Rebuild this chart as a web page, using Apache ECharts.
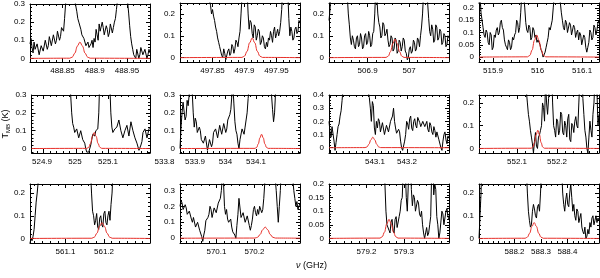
<!DOCTYPE html>
<html><head><meta charset="utf-8">
<script src="https://cdn.jsdelivr.net/npm/echarts@6.0.0/dist/echarts.min.js"></script>
<style>html,body{margin:0;padding:0;background:#fff}#c{width:600px;height:278px}</style>
</head><body><div id="c"></div>
<script>
// ---- axis ranges (GHz / K) ----
const xMin = [488.7996, 497.7992, 506.807, 515.8685, 524.8636, 533.8508, 542.9563, 552.005, 561.0078, 570.004, 579.10, 588.066];
const xMax = [488.9856, 497.9867, 507.096, 516.138, 525.2273, 534.2443, 543.3313, 552.305, 561.3195, 570.3198, 579.42, 588.519];
const yMin = [-0.02, -0.02, -0.02, -0.02, -0.025, -0.025, -0.04, -0.02, -0.02, -0.03, -0.017, -0.02];
const yMax = [0.3, 0.25, 0.25, 0.22, 0.3, 0.3, 0.4, 0.235, 0.24, 0.34, 0.2, 0.24];
// ---- tick labels ----
const xTicks = [
  [488.85, 488.9, 488.95], [497.85, 497.9, 497.95], [506.9, 507], [515.9, 516, 516.1],
  [524.9, 525, 525.1], [533.8, 533.9, 534, 534.1], [543.1, 543.2], [552.1, 552.2],
  [561.1, 561.2], [570.1, 570.2], [579.2, 579.3], [588.2, 588.3, 588.4]
];
const yTicks = [
  [0, 0.1, 0.2, 0.3], [0, 0.1, 0.2], [0, 0.1, 0.2], [0, 0.05, 0.1, 0.15, 0.2],
  [0, 0.1, 0.2, 0.3], [0, 0.1, 0.2, 0.3], [0, 0.1, 0.2, 0.3, 0.4], [0, 0.1, 0.2],
  [0, 0.1, 0.2], [0, 0.1, 0.2, 0.3], [0, 0.05, 0.1, 0.15, 0.2], [0, 0.1, 0.2]
];
const xMinorStep = [0.01, 0.01, 0.02, 0.02, 0.02, 0.02, 0.02, 0.02, 0.02, 0.02, 0.02, 0.02];
const yMinorStep = [0.02, 0.02, 0.02, 0.01, 0.02, 0.02, 0.02, 0.02, 0.02, 0.02, 0.01, 0.02];

// ---- observed spectra (T_MB, K), equally spaced channels across each panel ----
const tb1 = [0.08,0.11,0.06,0.03,0.09,0.05,0.04,0.08,0.07,0.02,0.03,0.07,0.06,0.04,0.05,0.10,0.09,0.05,0.07,0.12,0.11,0.07,0.08,0.13,0.12,0.08,0.10,0.15,0.14,0.10,0.12,0.17,0.16,0.15,0.22,0.30,0.35,0.40,0.42,0.45,0.45,0.42,0.38,0.34,0.32,0.29,0.26,0.22,0.20,0.19,0.16,0.13,0.12,0.11,0.10,0.07,0.07,0.09,0.06,0.05,0.08,0.10,0.06,0.11,0.09,0.16,0.13,0.10,0.19,0.15,0.14,0.20,0.17,0.13,0.12,0.18,0.16,0.12,0.14,0.19,0.18,0.14,0.17,0.20,0.22,0.27,0.32,0.37,0.40,0.44,0.45,0.44,0.42,0.40,0.36,0.33,0.31,0.25,0.18,0.12,0.08,0.05,0.02,0.03,0.0,0.05,0.04,0.0,0.02,0.06,0.05,0.02,0.01,0.05,0.04,0.0,0.02,0.05,0.03];
const tb2 = [0.4,0.41,0.42,0.44,0.45,0.45,0.44,0.45,0.46,0.44,0.43,0.44,0.45,0.43,0.42,0.43,0.44,0.42,0.41,0.40,0.40,0.39,0.38,0.36,0.35,0.33,0.32,0.30,0.28,0.26,0.24,0.20,0.22,0.19,0.17,0.14,0.12,0.09,0.07,0.05,0.03,0.01,0.0,0.04,0.02,-0.01,-0.01,0.03,0.04,0.01,0.02,0.06,0.05,0.02,0.04,0.08,0.07,0.05,0.09,0.12,0.2,0.28,0.35,0.38,0.4,0.36,0.3,0.2,0.13,0.17,0.16,0.11,0.09,0.15,0.14,0.08,0.1,0.13,0.12,0.06,0.07,0.10,0.09,0.05,0.04,0.07,0.05,0.09,0.08,0.12,0.1,0.07,0.12,0.14,0.09,0.11,0.13,0.10,0.12,0.16,0.22,0.32,0.4,0.44,0.42,0.36,0.3,0.18,0.1,0.14,0.12,0.08,0.09,0.13,0.14,0.11,0.12,0.17,0.16];
const tb3 = [0.17,0.22,0.3,0.36,0.4,0.43,0.45,0.44,0.42,0.45,0.46,0.45,0.44,0.42,0.4,0.38,0.35,0.31,0.28,0.2,0.15,0.09,0.06,0.1,0.08,0.05,0.04,0.09,0.1,0.05,0.06,0.11,0.09,0.04,0.05,0.1,0.11,0.06,0.07,0.12,0.1,0.05,0.06,0.11,0.12,0.2,0.32,0.28,0.2,0.16,0.14,0.09,0.1,0.16,0.15,0.1,0.11,0.13,0.08,0.05,0.06,0.1,0.09,0.03,0.04,0.09,0.08,0.02,0.03,0.08,0.07,0.03,0.05,0.09,0.08,0.03,0.02,-0.01,0.0,0.04,0.05,0.02,0.03,0.08,0.07,0.03,0.04,0.09,0.08,0.05,0.1,0.14,0.2,0.3,0.35,0.3,0.32,0.25,0.18,0.12,0.1,0.15,0.13,0.07,0.08,0.15,0.14,0.08,0.09,0.13,0.12,0.06,0.07,0.11,0.1,0.05,0.06,0.1,0.09];
const tb4 = [0.22,0.25,0.18,0.15,0.12,0.09,0.08,0.11,0.1,0.06,0.05,0.1,0.09,0.03,0.04,0.09,0.08,0.11,0.12,0.09,0.1,0.14,0.15,0.12,0.11,0.07,0.05,0.04,0.03,0.07,0.06,0.03,0.04,0.08,0.07,0.09,0.1,0.15,0.14,0.1,0.12,0.18,0.25,0.3,0.3,0.2,0.14,0.11,0.1,0.13,0.12,0.07,0.08,0.12,0.11,0.08,0.09,0.06,0.07,0.06,0.05,0.03,0.02,0.0,0.0,0.02,0.04,0.06,0.08,0.12,0.11,0.13,0.15,0.2,0.25,0.3,0.3,0.32,0.28,0.25,0.22,0.18,0.15,0.12,0.11,0.15,0.14,0.1,0.1,0.14,0.13,0.09,0.09,0.13,0.12,0.08,0.1,0.11,0.07,0.1,0.09,0.05,0.05,0.09,0.08,0.04,0.02,0.04,0.06,0.11,0.1,0.07,0.08,0.13,0.12,0.09,0.11,0.14,0.15];
const tb5 = [0.45,0.47,0.48,0.5,0.5,0.49,0.47,0.5,0.5,0.51,0.52,0.5,0.49,0.5,0.5,0.49,0.48,0.5,0.51,0.5,0.5,0.48,0.47,0.49,0.5,0.5,0.49,0.51,0.52,0.5,0.5,0.49,0.48,0.46,0.45,0.43,0.42,0.4,0.38,0.3,0.2,0.14,0.12,0.09,0.08,0.11,0.1,0.06,0.06,0.1,0.09,0.05,0.05,0.03,0.0,-0.02,-0.03,-0.02,-0.01,0.02,0.05,0.08,0.09,0.07,0.1,0.11,0.11,0.2,0.4,0.45,0.45,0.5,0.5,0.5,0.48,0.46,0.44,0.4,0.35,0.2,0.12,0.09,0.08,0.11,0.1,0.12,0.12,0.16,0.15,0.1,0.1,0.06,0.07,0.1,0.09,0.13,0.12,0.07,0.08,0.15,0.14,0.1,0.11,0.06,0.05,0.03,0.02,-0.01,-0.01,0.02,0.04,0.09,0.08,0.11,0.1,0.06,0.07,0.11,0.12];
const tb6 = [0.0,0.12,0.2,0.26,0.25,0.16,0.18,0.27,0.24,0.3,0.35,0.4,0.32,0.2,0.12,0.17,0.15,0.09,0.08,0.12,0.1,0.05,0.04,0.03,0.02,0.07,0.06,-0.01,-0.01,0.05,0.05,0.01,0.03,0.09,0.08,0.11,0.1,0.06,0.07,0.13,0.12,0.08,0.09,0.14,0.13,0.09,0.11,0.16,0.15,0.19,0.22,0.3,0.35,0.25,0.15,0.1,0.08,0.03,0.0,0.05,0.06,0.11,0.1,0.08,0.12,0.16,0.2,0.28,0.35,0.4,0.4,0.45,0.45,0.5,0.5,0.5,0.5,0.5,0.5,0.5,0.5,0.5,0.5,0.5,0.5,0.5,0.5,0.5,0.45,0.4,0.3,0.22,0.15,0.2,0.32,0.4,0.5,0.5,0.5,0.5,0.5,0.5,0.5,0.5,0.5,0.5,0.5,0.5,0.5,0.5,0.5,0.5,0.5,0.5,0.5,0.5,0.5,0.5,0.5];
const tb7 = [0.2,0.12,0.08,0.16,0.15,0.05,-0.02,0.04,0.1,0.16,0.18,0.24,0.28,0.36,0.45,0.5,0.5,0.55,0.55,0.6,0.6,0.6,0.6,0.6,0.6,0.6,0.6,0.6,0.6,0.6,0.6,0.55,0.55,0.5,0.5,0.5,0.5,0.45,0.45,0.42,0.38,0.3,0.2,0.35,0.32,0.15,0.1,0.2,0.15,0.22,0.2,0.12,0.12,0.19,0.18,0.1,0.1,0.17,0.16,0.12,0.13,0.2,0.19,0.24,0.3,0.2,0.15,0.11,0.1,0.14,0.12,0.05,0.0,-0.02,-0.02,0.05,0.1,0.2,0.18,0.14,0.22,0.24,0.15,0.13,0.2,0.22,0.17,0.15,0.23,0.21,0.19,0.16,0.15,0.2,0.21,0.16,0.18,0.2,0.14,0.12,0.19,0.17,0.12,0.1,0.16,0.13,0.08,0.12,0.12,0.06,0.05,0.0,-0.02,0.05,0.1,0.12,0.06,0.03,0.09,0.07];
const tb8 = [0.4,0.4,0.4,0.4,0.4,0.4,0.4,0.4,0.4,0.4,0.4,0.4,0.4,0.4,0.4,0.4,0.4,0.4,0.4,0.4,0.4,0.4,0.4,0.4,0.4,0.4,0.4,0.4,0.4,0.4,0.4,0.4,0.4,0.4,0.4,0.4,0.4,0.4,0.4,0.4,0.4,0.4,0.4,0.4,0.4,0.4,0.3,0.25,0.2,0.15,0.12,0.08,0.05,0.02,-0.02,0.03,0.07,0.01,0.0,0.05,0.06,0.08,0.1,0.2,0.18,0.12,0.3,0.2,0.15,0.22,0.28,0.4,0.35,0.2,0.1,0.08,0.05,0.13,0.12,0.06,0.08,0.16,0.15,0.07,0.06,0.12,0.1,0.05,0.13,0.15,0.04,0.03,0.11,0.1,0.07,0.12,0.14,0.1,0.09,0.2,0.3,0.4,0.35,0.22,0.15,0.08,0.05,0.0,-0.02,0.05,0.12,0.08,0.05,0.15,0.2,0.3,0.35,0.25,0.1,0.15];
const tb9 = [-0.02,0.0,-0.01,0.01,0.04,0.1,0.16,0.2,0.25,0.3,0.4,0.4,0.4,0.4,0.4,0.4,0.4,0.4,0.4,0.4,0.4,0.4,0.4,0.4,0.4,0.4,0.4,0.4,0.4,0.4,0.4,0.4,0.4,0.4,0.4,0.4,0.4,0.4,0.4,0.4,0.4,0.4,0.4,0.4,0.4,0.4,0.4,0.4,0.4,0.4,0.4,0.4,0.4,0.4,0.4,0.4,0.4,0.4,0.4,0.4,0.2,0.12,0.1,0.06,0.08,0.11,0.05,0.04,0.09,0.1,0.06,0.05,0.11,0.12,0.07,0.06,0.1,0.12,0.08,0.15,0.2,0.3,0.4,0.4,0.4,0.4,0.4,0.4,0.4,0.4,0.4,0.4,0.4,0.4,0.4,0.4,0.4,0.4,0.4,0.4,0.4,0.4,0.4,0.4,0.4,0.4,0.4,0.4,0.4,0.4,0.4,0.4,0.4,0.4,0.4,0.4,0.4,0.4];
const tb10 = [0.2,0.24,0.22,0.18,0.17,0.21,0.19,0.15,0.14,0.17,0.16,0.12,0.1,0.13,0.12,0.07,0.07,0.1,0.09,0.05,0.04,0.01,-0.02,0.02,0.05,0.11,0.1,0.13,0.15,0.2,0.18,0.13,0.14,0.19,0.2,0.16,0.17,0.22,0.21,0.25,0.3,0.4,0.36,0.2,0.15,0.18,0.12,0.1,0.1,0.12,0.07,0.04,0.05,0.02,0.0,0.08,0.15,0.25,0.25,0.13,0.12,0.16,0.15,0.1,0.1,0.14,0.13,0.08,0.05,0.08,0.12,0.18,0.2,0.16,0.14,0.18,0.15,0.2,0.2,0.16,0.18,0.25,0.35,0.45,0.45,0.45,0.45,0.45,0.45,0.45,0.45,0.45,0.45,0.3,0.2,0.1,0.2,0.3,0.45,0.45,0.45,0.45,0.45,0.45,0.45,0.45,0.45,0.45,0.45,0.45,0.3,0.25,0.2,0.23,0.18,0.2,0.22];
const tb11 = [0.4,0.4,0.4,0.4,0.4,0.4,0.4,0.4,0.4,0.4,0.4,0.4,0.4,0.4,0.4,0.4,0.4,0.4,0.4,0.4,0.4,0.4,0.4,0.4,0.4,0.4,0.4,0.4,0.4,0.4,0.4,0.4,0.4,0.4,0.4,0.4,0.4,0.4,0.4,0.4,0.4,0.4,0.4,0.4,0.4,0.4,0.4,0.4,0.4,0.4,0.4,0.4,0.4,0.4,0.3,0.2,0.1,0.05,0.05,0.03,0.02,0.06,0.07,0.03,0.02,0.07,0.08,0.04,0.04,0.08,0.1,0.14,0.15,0.25,0.3,0.25,0.15,0.1,0.2,0.3,0.28,0.18,0.12,0.16,0.15,0.1,0.1,0.14,0.13,0.09,0.08,0.1,0.05,0.02,0.0,0.02,0.04,0.01,0.02,0.05,0.08,0.25,0.3,0.16,0.2,0.18,0.08,0.05,0.0,0.02,0.06,0.1,0.09,0.05,0.05,0.1,0.11,0.08,0.07];
const tb12 = [0.0,0.1,0.2,0.35,0.4,0.4,0.4,0.4,0.4,0.4,0.4,0.4,0.4,0.4,0.4,0.4,0.4,0.4,0.4,0.4,0.4,0.4,0.4,0.4,0.4,0.4,0.4,0.4,0.4,0.4,0.4,0.4,0.4,0.4,0.4,0.4,0.4,0.4,0.4,0.4,0.4,0.4,0.4,0.4,0.4,0.4,0.4,0.3,0.2,0.12,0.08,0.05,0.06,0.12,0.15,0.13,0.1,0.09,0.14,0.15,0.12,0.2,0.3,0.4,0.4,0.4,0.4,0.4,0.4,0.4,0.4,0.4,0.4,0.4,0.4,0.4,0.4,0.4,0.4,0.4,0.4,0.4,0.3,0.2,0.15,0.12,0.17,0.2,0.15,0.14,0.2,0.24,0.18,0.12,0.15,0.1,0.08,0.13,0.12,0.07,0.09,0.11,0.05,0.03,0.02,0.05,0.0,0.01,0.04,0.02,0.07,0.05,0.09,0.1,0.06,0.08,0.1,0.07,0.09,0.08];
const spectra = [tb1, tb2, tb3, tb4, tb5, tb6, tb7, tb8, tb9, tb10, tb11, tb12];

// ---- model line (red): centre, sample spacing and profile values ----
const modelCenter = [488.877, 497.912, 506.966, 515.998, 525.0563, 534.1183, 543.0932, 552.152, 561.1948, 570.2282, 579.26, 588.2743];
const modelStep = [0.00395, 0.004, 0.0054, 0.0051, 0.0057, 0.0054, 0.0061, 0.0041, 0.0066, 0.0067, 0.006, 0.0085];
const model1 = [0.001,0.007,0.029,0.068,0.09,0.068,0.029,0.007,0.001];
const model2 = [0.001,0.007,0.029,0.068,0.09,0.068,0.029,0.007,0.001];
const model3 = [0.001,0.007,0.028,0.064,0.085,0.064,0.028,0.007,0.001];
const model4 = [0.001,0.007,0.029,0.068,0.09,0.068,0.029,0.007,0.001];
const model5 = [0.001,0.007,0.029,0.068,0.09,0.068,0.029,0.007,0.001];
const model6 = [0.001,0.006,0.026,0.06,0.08,0.06,0.026,0.006,0.001];
const model7 = [0.001,0.006,0.026,0.06,0.08,0.06,0.026,0.006,0.001];
const model8 = [0.001,0.006,0.026,0.06,0.08,0.06,0.026,0.006,0.001];
const model9 = [0.001,0.006,0.023,0.053,0.07,0.053,0.023,0.006,0.001];
const model10 = [0.001,0.006,0.023,0.053,0.07,0.053,0.023,0.006,0.001];
const model11 = [0.001,0.006,0.023,0.053,0.07,0.053,0.023,0.006,0.001];
const model12 = [0.001,0.006,0.023,0.053,0.07,0.053,0.023,0.006,0.001];
const models = [model1, model2, model3, model4, model5, model6, model7, model8, model9, model10, model11, model12];

// ---- layout ----
const colLeft = [30, 180, 329, 479];
const rowTop = [3, 95, 184];
const rowH = [59, 58, 59];
const panelW = 120;
const labelPad = 25;   // label axes extend a little left of each frame
const FONT = 'Liberation Sans';

function minorList(min, max, step) {
  const out = [];
  let v = Math.ceil(min / step - 1e-9) * step;
  while (v <= max + 1e-9) { out.push(+v.toFixed(6)); v += step; }
  return out;
}

const option = {
  animation: false,
  backgroundColor: '#fff',
  title: {
    text: '{i|ν} (GHz)', left: 296, top: 261, padding: 0,
    textStyle: { fontSize: 9, fontWeight: 'normal', color: '#000', fontFamily: FONT,
      rich: { i: { fontStyle: 'italic', fontSize: 9, fontFamily: FONT, color: '#000' } } }
  },
  grid: [], xAxis: [], yAxis: [], series: []
};

for (let p = 0; p < 12; p++) {
  const r = Math.floor(p / 4), c = p % 4;
  option.grid.push({ left: colLeft[c], top: rowTop[r], width: panelW, height: rowH[r] });
  const lineOn = { show: true, onZero: false, lineStyle: { color: '#000', width: 1 } };
  const lineOff = { show: false, onZero: false };
  const xb = { type: 'value', gridIndex: p, min: xMin[p], max: xMax[p], splitLine: { show: false } };
  const yb = { type: 'value', gridIndex: p, min: yMin[p], max: yMax[p], splitLine: { show: false } };
  const xMinor = minorList(xMin[p], xMax[p], xMinorStep[p]);
  const yMinor = minorList(yMin[p], yMax[p], yMinorStep[p]);
  const lab = { show: true, fontSize: 8, color: '#000', fontFamily: FONT, margin: 5 };
  option.xAxis.push(Object.assign({}, xb, { position: 'bottom', axisLine: lineOn,
    axisTick: { show: true, inside: true, length: 4, customValues: xTicks[p], lineStyle: { color: '#000' } },
    axisLabel: { show: false } }));
  option.xAxis.push(Object.assign({}, xb, { position: 'top', axisLine: lineOn,
    axisTick: { show: true, inside: true, length: 4, customValues: xTicks[p], lineStyle: { color: '#000' } },
    axisLabel: { show: false } }));
  option.xAxis.push(Object.assign({}, xb, { position: 'bottom', axisLine: lineOff,
    axisTick: { show: true, inside: true, length: 2, customValues: xMinor, lineStyle: { color: '#000' } },
    axisLabel: { show: false } }));
  option.xAxis.push(Object.assign({}, xb, { position: 'top', axisLine: lineOff,
    axisTick: { show: true, inside: true, length: 2, customValues: xMinor, lineStyle: { color: '#000' } },
    axisLabel: { show: false } }));
  const yA = Object.assign({}, yb, { position: 'left', axisLine: lineOn,
    axisTick: { show: true, inside: true, length: 4, customValues: yTicks[p], lineStyle: { color: '#000' } },
    axisLabel: Object.assign({}, lab, { customValues: yTicks[p] }) });
  if (p === 4) {
    yA.name = '{a|T}{b|MB}{a| (K)}';
    yA.nameLocation = 'middle';
    yA.nameGap = 18;
    yA.nameTextStyle = { color: '#000', fontFamily: FONT,
      rich: { a: { fontSize: 9, lineHeight: 12, fontFamily: FONT, color: '#000' },
              b: { fontSize: 6, lineHeight: 12, verticalAlign: 'bottom', fontFamily: FONT, color: '#000' } } };
  }
  option.yAxis.push(yA);
  option.yAxis.push(Object.assign({}, yb, { position: 'right', axisLine: lineOn,
    axisTick: { show: true, inside: true, length: 4, customValues: yTicks[p], lineStyle: { color: '#000' } },
    axisLabel: { show: false } }));
  option.yAxis.push(Object.assign({}, yb, { position: 'left', axisLine: lineOff,
    axisTick: { show: true, inside: true, length: 2, customValues: yMinor, lineStyle: { color: '#000' } },
    axisLabel: { show: false } }));
  option.yAxis.push(Object.assign({}, yb, { position: 'right', axisLine: lineOff,
    axisTick: { show: true, inside: true, length: 2, customValues: yMinor, lineStyle: { color: '#000' } },
    axisLabel: { show: false } }));

  const vals = spectra[p];
  const n = vals.length;
  const data = vals.map((v, i) => [xMin[p] + (xMax[p] - xMin[p]) * i / (n - 1), v]);
  option.series.push({ type: 'line', xAxisIndex: 4 * p, yAxisIndex: 4 * p, data: data,
    showSymbol: false, clip: true, lineStyle: { color: '#000', width: 1 }, z: 2 });

  const m = models[p];
  const half = (m.length - 1) / 2;
  const mdata = [[xMin[p], 0]];
  m.forEach((v, k) => mdata.push([modelCenter[p] + (k - half) * modelStep[p], v]));
  mdata.push([xMax[p], 0]);
  option.series.push({ type: 'line', xAxisIndex: 4 * p, yAxisIndex: 4 * p, data: mdata,
    showSymbol: false, clip: true, smooth: 0.4, smoothMonotone: 'x',
    lineStyle: { color: '#e8302a', width: 1 }, z: 3 });
}

// frequency label axes: same scale as each frame, extended a little to the left
for (let p = 0; p < 12; p++) {
  const r = Math.floor(p / 4), c = p % 4;
  const g = option.grid.length;
  const perPx = (xMax[p] - xMin[p]) / panelW;
  option.grid.push({ left: colLeft[c] - labelPad, top: rowTop[r], width: panelW + labelPad, height: rowH[r] });
  option.xAxis.push({ type: 'value', gridIndex: g, position: 'bottom',
    min: xMin[p] - labelPad * perPx, max: xMax[p], splitLine: { show: false },
    axisLine: { show: false, onZero: false }, axisTick: { show: false },
    axisLabel: { show: true, fontSize: 8, color: '#000', fontFamily: FONT, margin: 5, customValues: xTicks[p] } });
  option.yAxis.push({ type: 'value', gridIndex: g, min: 0, max: 1, show: false });
}

const chart = echarts.init(document.getElementById('c'), null, { renderer: 'canvas' });
chart.setOption(option);
</script>
</body></html>
